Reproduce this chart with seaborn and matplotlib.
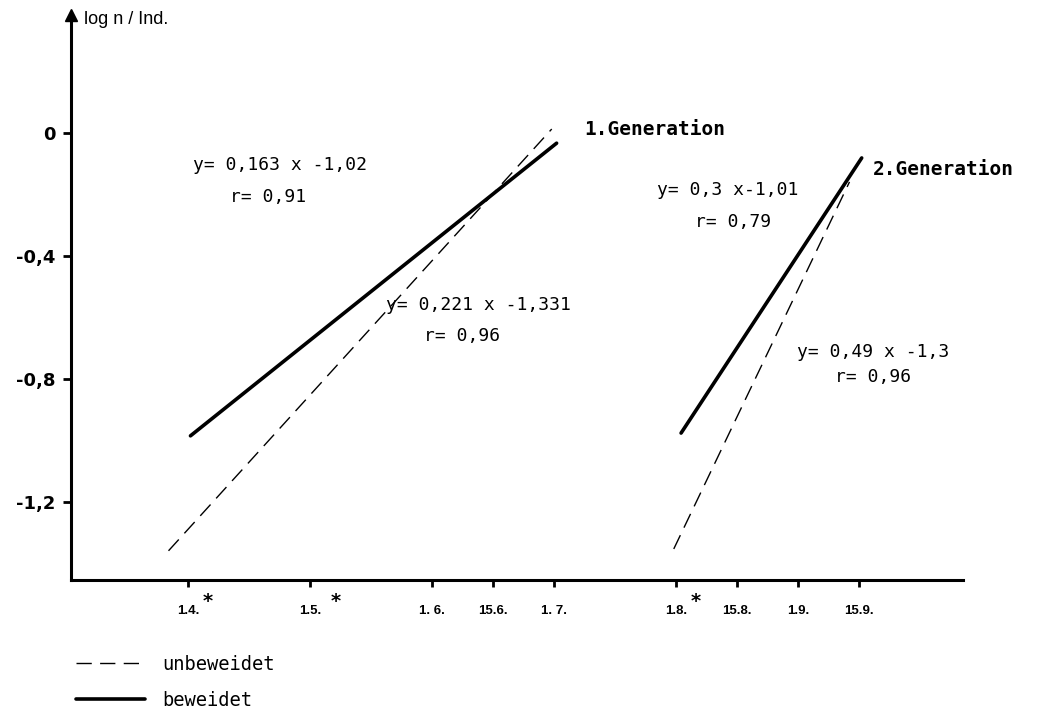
import numpy as np
import pandas as pd
import matplotlib
matplotlib.use("Agg")
import matplotlib.pyplot as plt
import seaborn as sns

# ---- data -------------------------------------------------------------
# x axis: months since 1 April (1.4. = 0, 15.6. = 2.5, ...)
tick_pos = [0, 1, 2, 2.5, 3, 4, 4.5, 5, 5.5]
tick_labels = ["1.4.", "1.5.", "1. 6.", "15.6.", "1. 7.",
               "1.8.", "15.8.", "1.9.", "15.9."]
starred = [True, True, False, False, False, True, False, False, False]
ytick_vals = [0, -0.4, -0.8, -1.2]
ytick_labels = ["0", "-0,4", "-0,8", "-1,2"]

gen1_unbew_x = [-0.16, 2.98]
gen1_unbew_y = [-1.359, 0.013]
gen1_bew_x = [0.02, 3.02]
gen1_bew_y = [-0.985, -0.033]
gen2_unbew_x = [3.98, 5.42]
gen2_unbew_y = [-1.353, -0.159]
gen2_bew_x = [4.04, 5.52]
gen2_bew_y = [-0.976, -0.081]

treatments = ["unbeweidet", "beweidet"]

rows = []
for gen, trt, xs, ys in [
    ("1", "unbeweidet", gen1_unbew_x, gen1_unbew_y),
    ("1", "beweidet", gen1_bew_x, gen1_bew_y),
    ("2", "unbeweidet", gen2_unbew_x, gen2_unbew_y),
    ("2", "beweidet", gen2_bew_x, gen2_bew_y),
]:
    for xv, yv in zip(xs, ys):
        rows.append({"unit": gen + trt, "treatment": trt, "x": xv, "y": yv})
df = pd.DataFrame(rows)

# ---- style ------------------------------------------------------------
sns.set_style("ticks")
plt.rcParams["font.family"] = ["Liberation Sans", "DejaVu Sans"]
plt.rcParams["lines.solid_capstyle"] = "round"
plt.rcParams["text.color"] = "black"
plt.rcParams["axes.labelcolor"] = "black"
plt.rcParams["xtick.color"] = "black"
plt.rcParams["ytick.color"] = "black"

fig = plt.figure(figsize=(10.4, 7.2), dpi=100)
ax = fig.add_axes([71 / 1040, 1 - 580 / 720, (963 - 71) / 1040, (580 - 15) / 720])

sns.lineplot(data=df, x="x", y="y", units="unit", estimator=None,
             style="treatment", size="treatment",
             style_order=treatments, size_order=treatments,
             sizes={"unbeweidet": 1.0, "beweidet": 2.6},
             dashes={"unbeweidet": (11, 6), "beweidet": ""},
             color="black", sort=False, ax=ax, legend=True)

ax.set_xlim(-0.959, 6.35)
ax.set_ylim(-1.454, 0.384)
ax.set_xlabel("")
ax.set_ylabel("")

for s in ["top", "right"]:
    ax.spines[s].set_visible(False)
for s in ["left", "bottom"]:
    ax.spines[s].set_linewidth(2.2)
    ax.spines[s].set_color("black")

ax.set_xticks(tick_pos)
ax.set_xticklabels(tick_labels, fontsize=9.5, fontweight="bold")
ax.set_yticks(ytick_vals)
ax.set_yticklabels(ytick_labels, fontsize=13, fontweight="bold", family="DejaVu Sans")
ax.tick_params(axis="x", length=5, width=2, pad=13, colors="black")
ax.tick_params(axis="y", length=6, width=2, pad=5, colors="black")

# asterisks next to marked dates
for p, st, lab in zip(tick_pos, starred, tick_labels):
    if st:
        dx = 20 if lab != "1.5." else 26
        ax.annotate("*", xy=(p, 0), xycoords=("data", "axes fraction"),
                    xytext=(dx * 0.72, -22 * 0.72), textcoords="offset points",
                    ha="center", va="center", fontsize=14, fontweight="bold",
                    family="DejaVu Sans", annotation_clip=False)

# arrow head on y axis
ax.plot([0], [1], marker="^", color="black", markersize=8,
        transform=ax.transAxes, clip_on=False)

fig.text(84 / 1040, 1 - 20 / 720, "log n / Ind.", fontsize=13, va="center", ha="left")

mono = ["DejaVu Sans Mono"]
ax.text(3.25, 0.01, "1.Generation", family=mono, fontweight="bold", fontsize=14, va="center")
ax.text(5.61, -0.12, "2.Generation", family=mono, fontweight="bold", fontsize=14, va="center")

eqs = [
    (0.04, -0.104, "y= 0,163 x -1,02"),
    (0.344, -0.208, "r= 0,91"),
    (1.62, -0.559, "y= 0,221 x -1,331"),
    (1.93, -0.66, "r= 0,96"),
    (3.84, -0.185, "y= 0,3 x-1,01"),
    (4.15, -0.289, "r= 0,79"),
    (4.99, -0.712, "y= 0,49 x -1,3"),
    (5.30, -0.793, "r= 0,96"),
]
for xx, yy, s in eqs:
    ax.text(xx, yy, s, family=mono, fontsize=13, va="center", ha="left")

handles, labels = ax.get_legend_handles_labels()
sel = [(h, l) for h, l in zip(handles, labels) if l in treatments]
if ax.get_legend() is not None:
    ax.get_legend().remove()
leg = fig.legend([h for h, _ in sel], [l for _, l in sel],
                 loc="upper left", bbox_to_anchor=(76 / 1040, 1 - 655 / 720),
                 frameon=False, handlelength=3.7, handletextpad=0.9,
                 labelspacing=0.9, borderpad=0, borderaxespad=0,
                 prop={"family": "DejaVu Sans Mono", "size": 13.5})

fig.savefig("out.png", dpi=100, facecolor="white")
